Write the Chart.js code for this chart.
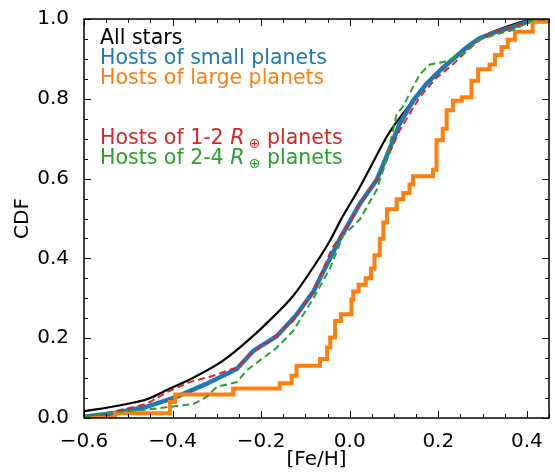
<!DOCTYPE html>
<html>
<head>
<meta charset="utf-8">
<script src="https://cdn.jsdelivr.net/npm/chart.js@4.4.0/dist/chart.umd.min.js"></script>
<style>
  html, body { margin: 0; padding: 0; background: #fff; }
  #wrap { width: 555px; height: 473px; }
</style>
</head>
<body>
<div id="wrap"><canvas id="cdfChart" width="555" height="473"></canvas></div>
<script>
// tick positions
var xTickValues = [-0.6, -0.4, -0.2, 0.0, 0.2, 0.4];
var yTickValues = [0.0, 0.2, 0.4, 0.6, 0.8, 1.0];

// All stars
var allFe  = [-0.6, -0.517, -0.453, -0.413, -0.35, -0.286, -0.23, -0.175, -0.127, -0.087, -0.048, -0.016, 0.016, 0.048, 0.088, 0.127, 0.167, 0.207, 0.247, 0.286, 0.326, 0.366, 0.406, 0.45];
var allCdf = [0.017, 0.032, 0.049, 0.070, 0.103, 0.144, 0.194, 0.251, 0.307, 0.370, 0.438, 0.505, 0.565, 0.631, 0.713, 0.773, 0.829, 0.877, 0.912, 0.946, 0.969, 0.985, 0.997, 1.0];

// Hosts of small planets
var smallFe  = [-0.6, -0.534, -0.459, -0.391, -0.323, -0.255, -0.218, -0.165, -0.12, -0.082, -0.06, -0.022, 0.023, 0.061, 0.083, 0.113, 0.143, 0.173, 0.203, 0.233, 0.263, 0.293, 0.331, 0.368, 0.413, 0.45];
var smallCdf = [0.003, 0.012, 0.028, 0.053, 0.086, 0.123, 0.168, 0.205, 0.259, 0.317, 0.366, 0.449, 0.537, 0.597, 0.655, 0.738, 0.795, 0.837, 0.870, 0.899, 0.928, 0.952, 0.968, 0.98, 0.997, 1.0];

// Hosts of large planets (step CDF)
var largeFe  = [-0.6, -0.53, -0.406, -0.394, -0.263, -0.158, -0.131, -0.12, -0.067, -0.051, -0.044, -0.033, -0.02, 0.004, 0.008, 0.02, 0.036, 0.048, 0.056, 0.068, 0.076, 0.084, 0.106, 0.121, 0.135, 0.143, 0.188, 0.196, 0.21, 0.219, 0.233, 0.253, 0.275, 0.29, 0.316, 0.328, 0.343, 0.357, 0.373, 0.413, 0.45];
var largeCdf = [0.0, 0.012, 0.04, 0.059, 0.074, 0.087, 0.106, 0.131, 0.148, 0.177, 0.202, 0.243, 0.26, 0.297, 0.317, 0.334, 0.35, 0.375, 0.408, 0.449, 0.49, 0.523, 0.548, 0.564, 0.585, 0.606, 0.622, 0.696, 0.725, 0.771, 0.795, 0.804, 0.845, 0.874, 0.886, 0.91, 0.93, 0.948, 0.968, 0.993, 1.0];

// Hosts of 1-2 Re planets
var r12Fe  = [-0.6, -0.534, -0.459, -0.413, -0.361, -0.308, -0.255, -0.225, -0.18, -0.128, -0.082, -0.04, 0.0, 0.04, 0.07, 0.09, 0.113, 0.158, 0.196, 0.233, 0.279, 0.316, 0.368, 0.413, 0.45];
var r12Cdf = [0.003, 0.016, 0.035, 0.065, 0.09, 0.106, 0.127, 0.16, 0.193, 0.243, 0.317, 0.425, 0.49, 0.565, 0.61, 0.665, 0.721, 0.804, 0.853, 0.886, 0.936, 0.964, 0.98, 0.997, 1.0];

// Hosts of 2-4 Re planets
var r24Fe  = [-0.6, -0.534, -0.459, -0.406, -0.353, -0.323, -0.3, -0.255, -0.233, -0.165, -0.128, -0.082, -0.045, -0.015, 0.023, 0.061, 0.083, 0.106, 0.12, 0.143, 0.158, 0.181, 0.219, 0.264, 0.293, 0.339, 0.368, 0.413, 0.45];
var r24Cdf = [0.003, 0.014, 0.021, 0.028, 0.035, 0.053, 0.078, 0.09, 0.119, 0.176, 0.218, 0.3, 0.374, 0.457, 0.498, 0.572, 0.647, 0.762, 0.78, 0.83, 0.861, 0.886, 0.894, 0.919, 0.948, 0.964, 0.972, 0.997, 1.0];

function toPoints(xs, ys) {
    return xs.map(function (x, i) { return { x: x, y: ys[i] }; });
}

var FONT = "'DejaVu Sans', sans-serif";

function fmtTick(v) {
    return v.toFixed(1).replace('-', '\u2212');
}

// frame + inward major/minor ticks on all four sides
var framePlugin = {
    id: 'frame',
    afterDraw: function (chart) {
        var ctx = chart.ctx, a = chart.chartArea;
        var xs = chart.scales.x, ys = chart.scales.y;
        ctx.save();
        ctx.strokeStyle = '#000';
        ctx.lineWidth = 1;
        var i, v, p;
        for (i = 0; i <= 21; i++) {
            v = -0.6 + i * 0.05;
            p = Math.round(xs.getPixelForValue(v)) + 0.5;
            var len = (i % 4 === 0) ? 7 : 4;
            ctx.beginPath();
            ctx.moveTo(p, a.bottom); ctx.lineTo(p, a.bottom - len);
            ctx.moveTo(p, a.top); ctx.lineTo(p, a.top + len);
            ctx.stroke();
        }
        for (i = 0; i <= 20; i++) {
            v = i * 0.05;
            p = Math.round(ys.getPixelForValue(v)) + 0.5;
            var lenY = (i % 4 === 0) ? 7 : 4;
            ctx.beginPath();
            ctx.moveTo(a.left, p); ctx.lineTo(a.left + lenY, p);
            ctx.moveTo(a.right, p); ctx.lineTo(a.right - lenY, p);
            ctx.stroke();
        }
        ctx.lineWidth = 1.5;
        ctx.strokeRect(a.left, a.top, a.right - a.left, a.bottom - a.top);
        ctx.restore();
    }
};

// text legend inside the axes
function drawPieces(ctx, x, y, pieces) {
    pieces.forEach(function (pc) {
        ctx.font = pc.font;
        ctx.fillText(pc.text, x, y + (pc.dy || 0));
        x += ctx.measureText(pc.text).width;
    });
}

var legendPlugin = {
    id: 'textLegend',
    afterDraw: function (chart) {
        var ctx = chart.ctx;
        var base = '20.5px ' + FONT;
        var ital = 'italic 20.5px ' + FONT;
        var sub = '14px ' + FONT;
        ctx.save();
        ctx.textBaseline = 'alphabetic';
        ctx.textAlign = 'left';
        ctx.fillStyle = '#000';
        drawPieces(ctx, 100, 44, [{ text: 'All stars', font: base }]);
        ctx.fillStyle = '#1f77b4';
        drawPieces(ctx, 100, 64, [{ text: 'Hosts of small planets', font: base }]);
        ctx.fillStyle = '#ff7f0e';
        drawPieces(ctx, 100, 84, [{ text: 'Hosts of large planets', font: base }]);
        ctx.fillStyle = '#d62728';
        drawPieces(ctx, 100, 144, [
            { text: 'Hosts of 1-2 ', font: base },
            { text: 'R', font: ital },
            { text: ' \u2295', font: sub, dy: 4 },
            { text: ' planets', font: base }
        ]);
        ctx.fillStyle = '#2ca02c';
        drawPieces(ctx, 100, 164, [
            { text: 'Hosts of 2-4 ', font: base },
            { text: 'R', font: ital },
            { text: ' \u2295', font: sub, dy: 4 },
            { text: ' planets', font: base }
        ]);
        ctx.restore();
    }
};

var ctx = document.getElementById('cdfChart').getContext('2d');
var cdfChart = new Chart(ctx, {
    type: 'scatter',
    data: {
        datasets: [
            { label: 'Hosts of 2-4 R planets', data: toPoints(r24Fe, r24Cdf), borderColor: '#2ca02c', borderWidth: 2, borderDash: [7, 4], order: 1 },
            { label: 'Hosts of 1-2 R planets', data: toPoints(r12Fe, r12Cdf), borderColor: '#d62728', borderWidth: 2, borderDash: [7, 4], order: 2 },
            { label: 'Hosts of large planets', data: toPoints(largeFe, largeCdf), borderColor: '#ff7f0e', borderWidth: 4, stepped: 'before', order: 3 },
            { label: 'Hosts of small planets', data: toPoints(smallFe, smallCdf), borderColor: '#1f77b4', borderWidth: 4.5, order: 4 },
            { label: 'All stars', data: toPoints(allFe, allCdf), borderColor: '#000', borderWidth: 2.2, cubicInterpolationMode: 'monotone', order: 5 }
        ]
    },
    options: {
        responsive: false,
        animation: false,
        showLine: true,
        elements: { point: { radius: 0, hoverRadius: 0 }, line: { fill: false } },
        layout: { padding: { left: 0, right: 6, top: 14, bottom: 0 } },
        plugins: { legend: { display: false }, tooltip: { enabled: false } },
        scales: {
            x: {
                type: 'linear', min: -0.6, max: 0.45,
                grid: { display: false },
                border: { display: false },
                afterBuildTicks: function (s) { s.ticks = xTickValues.map(function (v) { return { value: v }; }); },
                afterFit: function (s) { s.height = 55; },
                ticks: { color: '#000', font: { family: FONT, size: 20 }, padding: 4, maxRotation: 0, callback: function (v) { return fmtTick(v); } },
                title: { display: true, text: '[Fe/H]', color: '#000', font: { family: FONT, size: 20 }, padding: { top: 0, bottom: 1 } }
            },
            y: {
                type: 'linear', min: 0, max: 1,
                grid: { display: false },
                border: { display: false },
                afterBuildTicks: function (s) { s.ticks = yTickValues.map(function (v) { return { value: v }; }); },
                afterFit: function (s) { s.width = 84; },
                ticks: { color: '#000', font: { family: FONT, size: 20 }, padding: 7, callback: function (v) { return fmtTick(v); } },
                title: { display: true, text: 'CDF', color: '#000', font: { family: FONT, size: 20 }, padding: { top: 11, bottom: 0 } }
            }
        }
    },
    plugins: [framePlugin, legendPlugin]
});
</script>
</body>
</html>
